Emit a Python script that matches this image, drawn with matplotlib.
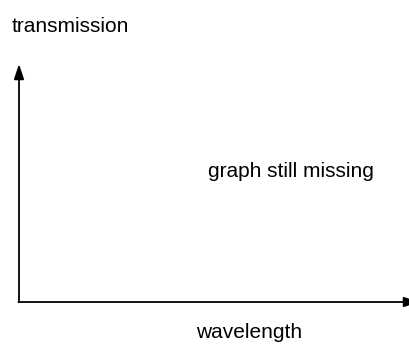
import matplotlib.pyplot as plt

plt.rcParams['font.family'] = ['Liberation Sans', 'DejaVu Sans']

y_label = 'transmission'
x_label = 'wavelength'
note = 'graph still missing'

fig = plt.figure(figsize=(4.1, 3.45), dpi=100)
ax = fig.add_axes([0, 0, 1, 1])
ax.set_xlim(0, 410)
ax.set_ylim(345, 0)
ax.axis('off')

# axes drawn by hand as arrows, origin bottom left
arrow = dict(arrowstyle='-|>,head_length=0.9,head_width=0.3', color='black', lw=1.3,
             shrinkA=0, shrinkB=0)
ax.annotate('', xy=(19, 64), xytext=(19, 302), arrowprops=arrow, annotation_clip=False)
ax.annotate('', xy=(419, 302), xytext=(18.4, 302), arrowprops=arrow, annotation_clip=False)

ax.text(12, 32, y_label, fontsize=15, ha='left', va='baseline')
ax.text(208, 177, note, fontsize=15, ha='left', va='baseline')
ax.text(196, 338, x_label, fontsize=15, ha='left', va='baseline')

fig.savefig('out.png', dpi=100)
